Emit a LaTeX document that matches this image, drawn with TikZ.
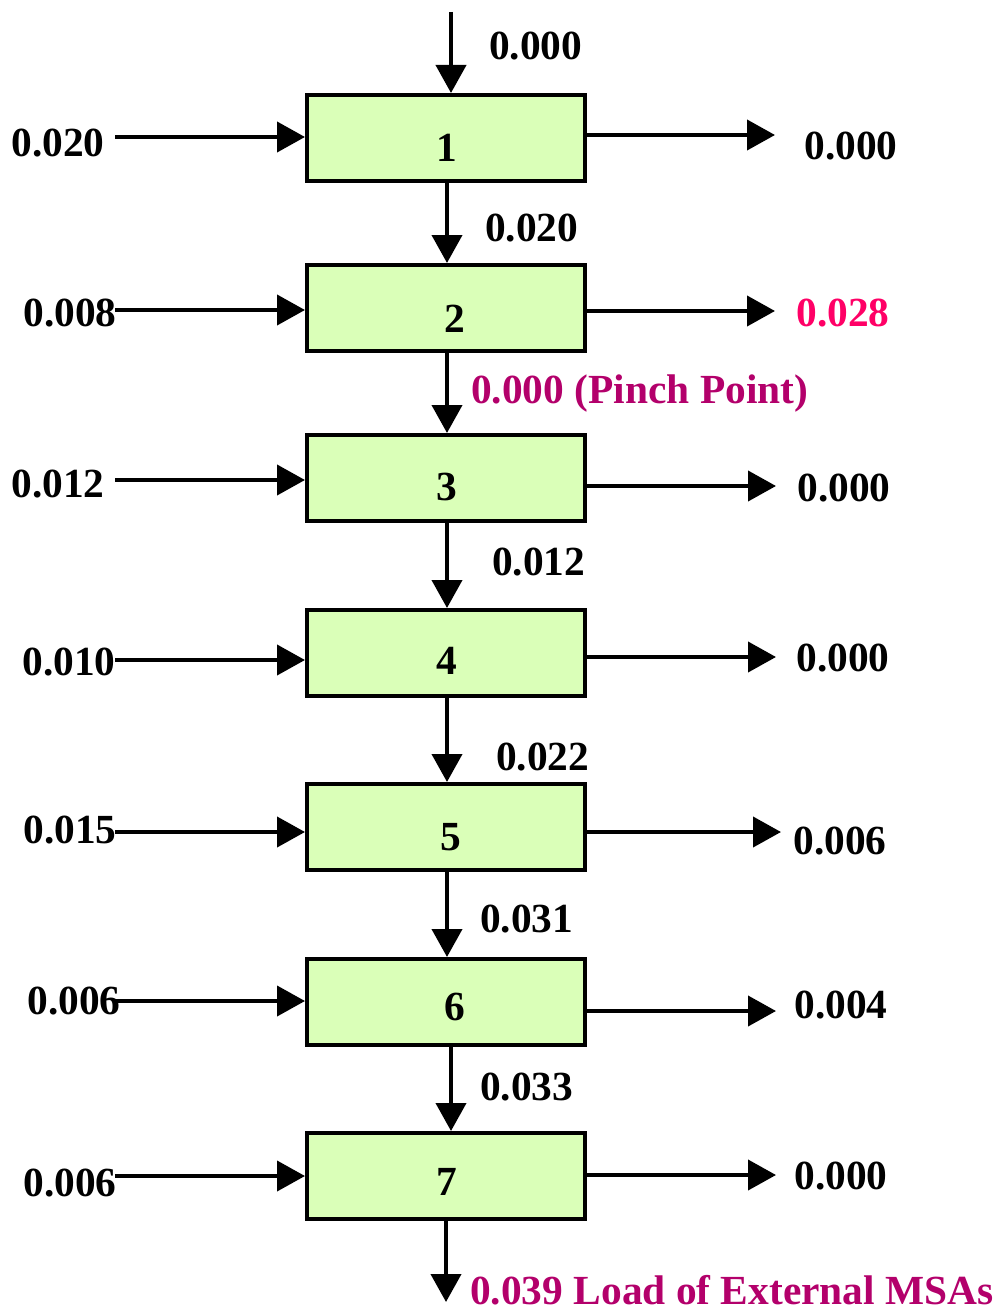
\documentclass[tikz,border=0pt]{standalone}
\usepackage{fontspec}
\setmainfont{Liberation Serif}
\usetikzlibrary{arrows.meta}
\definecolor{boxfill}{HTML}{DAFFB8}
\definecolor{pinkred}{HTML}{FF0066}
\definecolor{plum}{HTML}{B3006B}
\tikzset{
  stage/.style={draw=black, line width=4pt, fill=boxfill, minimum width=278pt, minimum height=86pt, inner sep=0pt},
  arr/.style={line width=4pt, -{Triangle[length=28pt,width=30pt]}},
  val/.style={font=\fontsize{41.4}{48}\selectfont\bfseries, inner sep=0pt, text height=28pt, text depth=0pt},
}
\begin{document}
\begin{tikzpicture}[x=1pt,y=-1pt]
\useasboundingbox (0,0) rectangle (1002,1311);
% boxes
\foreach \i/\y in {1/138,2/308,3/478,4/653,5/827,6/1002,7/1176}{
  \node[stage] (b\i) at (446,\y) {};
}
% numbers
\node[val] (n1) at (447,147) {1};
\node[val] (n2) at (455,318) {2};
\node[val] (n3) at (447,486) {3};
\node[val] (n4) at (447,660) {4};
\node[val] (n5) at (451,836) {5};
\node[val] (n6) at (455,1006) {6};
\node[val] (n7) at (447,1181) {7};
% vertical flows
\coordinate (top) at (451,12);
\coordinate (bot) at (446,1302);
\draw[arr] (top) -- (top |- b1.north);
\draw[arr] ([xshift=1pt]b1.south) -- ([xshift=1pt]b2.north);
\draw[arr] ([xshift=1pt]b2.south) -- ([xshift=1pt]b3.north);
\draw[arr] ([xshift=1pt]b3.south) -- ([xshift=1pt]b4.north);
\draw[arr] ([xshift=1pt]b4.south) -- ([xshift=1pt]b5.north);
\draw[arr] ([xshift=1pt]b5.south) -- ([xshift=1pt]b6.north);
\draw[arr] ([xshift=5pt]b6.south) -- ([xshift=5pt]b7.north);
\draw[arr] (b7.south) -- (bot);
% left inputs
\foreach \i/\y in {1/137,2/310,3/480,4/660,5/832,6/1001,7/1176}{
  \coordinate (l\i) at (115,\y);
  \draw[arr] (l\i) -- (l\i -| b\i.west);
}
% right outputs
\foreach \i/\y/\x in {1/135/775,2/311/775,3/486/776,4/657/776,5/832/781,6/1011/776,7/1175/776}{
  \coordinate (r\i) at (\x,\y);
  \draw[arr] (r\i -| b\i.east) -- (r\i);
}
% left labels
\node[val] (il1) at (58,143) {0.020};
\node[val] (il2) at (70,312) {0.008};
\node[val] (il3) at (58,483) {0.012};
\node[val] (il4) at (69,661) {0.010};
\node[val] (il5) at (70,829) {0.015};
\node[val] (il6) at (74,1000) {0.006};
\node[val] (il7) at (70,1182) {0.006};
% right labels
\node[val] (ol1) at (851,145) {0.000};
\node[val, text=pinkred] (ol2) at (843,312) {0.028};
\node[val] (ol3) at (844,487) {0.000};
\node[val] (ol4) at (843,657) {0.000};
\node[val] (ol5) at (840,840) {0.006};
\node[val] (ol6) at (841,1004) {0.004};
\node[val] (ol7) at (841,1175) {0.000};
% vertical labels
\node[val, anchor=west] (vl0) at (489,46) {0.000};
\node[val, anchor=west] (vl1) at (485,227) {0.020};
\node[val, anchor=west, text=plum] (vl2) at (471,389) {0.000 (Pinch Point)};
\node[val, anchor=west] (vl3) at (492,561) {0.012};
\node[val, anchor=west] (vl4) at (496,756) {0.022};
\node[val, anchor=west] (vl5) at (480,918) {0.031};
\node[val, anchor=west] (vl6) at (480,1086) {0.033};
\node[val, anchor=west, text=plum] (vl7) at (470,1290) {0.039 Load of External MSAs};
\end{tikzpicture}
\end{document}
